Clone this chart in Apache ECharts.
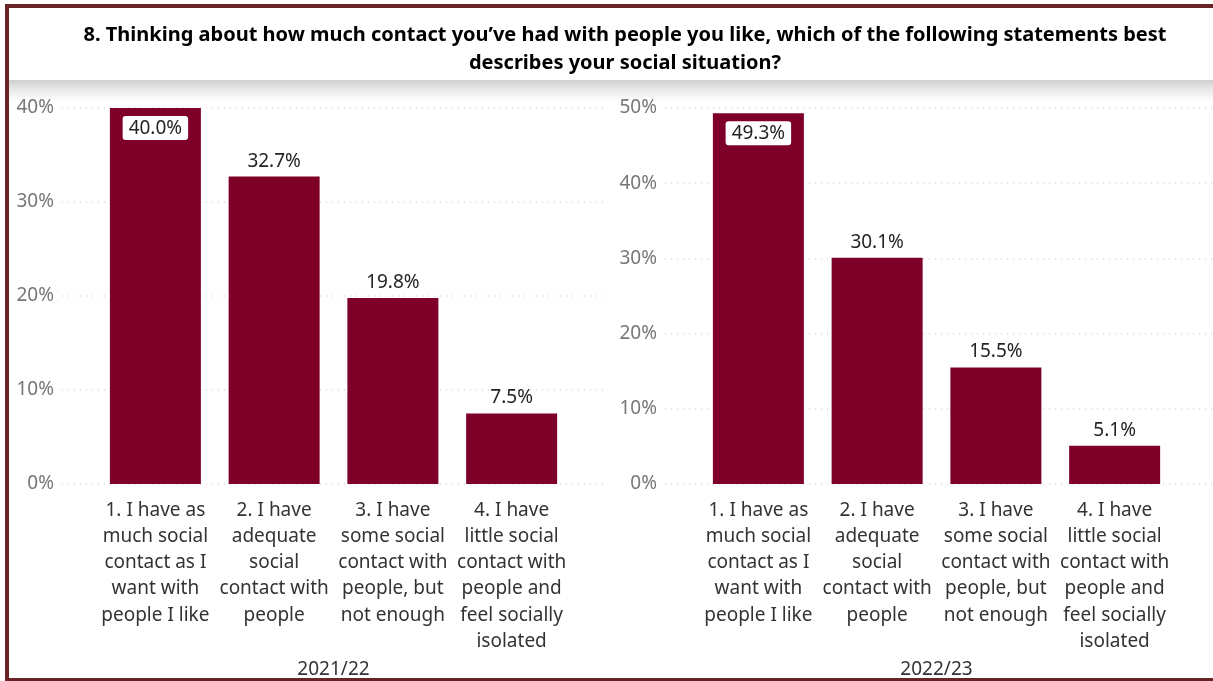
<!DOCTYPE html>
<html>
<head>
<meta charset="utf-8">
<script src="https://cdn.jsdelivr.net/npm/echarts@6/dist/echarts.min.js"></script>
<style>
  html, body { margin: 0; padding: 0; background: #fff; }
  #chart { width: 1213px; height: 681px; }
</style>
</head>
<body>
<div id="chart"></div>
<script>
const categories = [
  "1. I have as\nmuch social\ncontact as I\nwant with\npeople I like",
  "2. I have\nadequate\nsocial\ncontact with\npeople",
  "3. I have\nsome social\ncontact with\npeople, but\nnot enough",
  "4. I have\nlittle social\ncontact with\npeople and\nfeel socially\nisolated"
];
const values2122 = [40.0, 32.7, 19.8, 7.5];
const values2223 = [49.3, 30.1, 15.5, 5.1];
const yearLeft = "2021/22";
const yearRight = "2022/23";
const axisMaxLeft = 40;
const axisMaxRight = 50;

const barColor = "#7e0029";
const fontFamily = "'Noto Sans', 'Open Sans', sans-serif";

// label inside the bar when the bar reaches the top of the axis
function buildData(values, max) {
  return values.map((v) =>
    v / max > 0.9
      ? {
          value: v,
          label: {
            position: "insideTop",
            distance: 8,
            backgroundColor: "#fff",
            borderRadius: 3,
            padding: [3, 6, 2, 6],
          },
        }
      : v
  );
}

const chart = echarts.init(document.getElementById("chart"));

const gridTop = 108;
const gridHeight = 376;

const yTicks = {
  show: true,
  margin: 8,
  color: "#777",
  fontSize: 19,
  fontFamily: fontFamily,
  formatter: "{value}%",
};
const dotted = {
  show: true,
  lineStyle: { color: "#d6d6d6", type: [1, 5], width: 1.5 },
};

function barSeries(xi, values, max) {
  return {
    type: "bar",
    xAxisIndex: xi,
    yAxisIndex: xi,
    data: buildData(values, max),
    barWidth: 91,
    itemStyle: { color: barColor },
    label: {
      show: true,
      position: "top",
      distance: 6,
      color: "#252423",
      fontSize: 19,
      fontFamily: fontFamily,
      formatter: (p) => p.value.toFixed(1) + "%",
    },
  };
}

function catAxis(gi, name) {
  return {
    type: "category",
    gridIndex: gi,
    data: categories,
    axisLine: { show: false },
    axisTick: { show: false },
    axisLabel: {
      margin: 13,
      color: "#333",
      fontSize: 19,
      lineHeight: 26.3,
      fontFamily: fontFamily,
      interval: 0,
    },
    name: name,
    nameLocation: "middle",
    nameGap: 172,
    nameTextStyle: { color: "#333", fontSize: 19, fontFamily: fontFamily },
  };
}

function makeGrid(left, width) {
  return { left: left, top: gridTop, width: width, height: gridHeight, outerBoundsMode: "none", containLabel: false };
}

const option = {
  animation: false,
  title: {
    text:
      "8. Thinking about how much contact you\u2019ve had with people you like, which of the following statements best\ndescribes your social situation?",
    left: 620,
    top: 16,
    textAlign: "center",
    textStyle: {
      fontFamily: fontFamily,
      fontSize: 20,
      fontWeight: "bold",
      color: "#000",
      lineHeight: 28,
    },
  },
  graphic: [
    {
      type: "rect",
      shape: { x: 9, y: 80, width: 1204, height: 22 },
      style: {
        fill: new echarts.graphic.LinearGradient(0, 0, 0, 1, [
          { offset: 0, color: "#cfcfcf" },
          { offset: 0.5, color: "#ececec" },
          { offset: 1, color: "#ffffff" },
        ]),
      },
      z: -1,
    },
    { type: "rect", shape: { x: 5, y: 4, width: 1208, height: 4 }, style: { fill: "#6b2426" } },
    { type: "rect", shape: { x: 5, y: 4, width: 4, height: 677 }, style: { fill: "#6b2426" } },
    { type: "rect", shape: { x: 5, y: 678, width: 1208, height: 3 }, style: { fill: "#6b2426" } },
  ],
  grid: [
    makeGrid(62, 541),
    makeGrid(96, 475),
    makeGrid(665, 548),
    makeGrid(699, 475),
  ],
  xAxis: [
    { type: "value", gridIndex: 0, show: false },
    catAxis(1, yearLeft),
    { type: "value", gridIndex: 2, show: false },
    catAxis(3, yearRight),
  ],
  yAxis: [
    {
      type: "value", gridIndex: 0, min: 0, max: axisMaxLeft, interval: 10,
      axisLabel: yTicks, splitLine: dotted,
      axisLine: { show: false }, axisTick: { show: false },
    },
    { type: "value", gridIndex: 1, min: 0, max: axisMaxLeft, show: false, splitLine: { show: false } },
    {
      type: "value", gridIndex: 2, min: 0, max: axisMaxRight, interval: 10,
      axisLabel: yTicks, splitLine: dotted,
      axisLine: { show: false }, axisTick: { show: false },
    },
    { type: "value", gridIndex: 3, min: 0, max: axisMaxRight, show: false, splitLine: { show: false } },
  ],
  series: [
    barSeries(1, values2122, axisMaxLeft),
    barSeries(3, values2223, axisMaxRight),
  ],
};

chart.setOption(option);
</script>
</body>
</html>
